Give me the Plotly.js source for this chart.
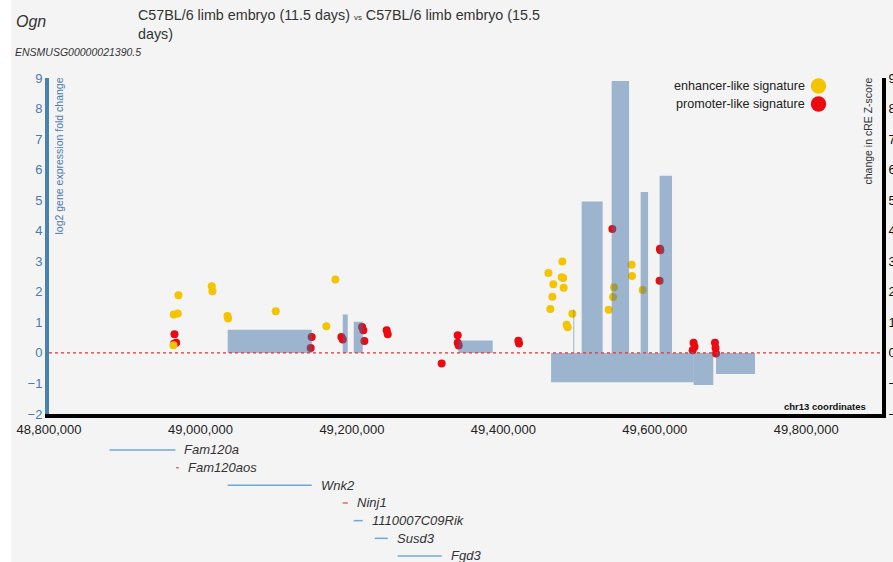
<!DOCTYPE html>
<html>
<head>
<meta charset="utf-8">
<script src="https://cdn.plot.ly/plotly-3.0.1.min.js"></script>
<style>
html,body{margin:0;padding:0;background:#ffffff;}
#plot{margin-left:11px;width:882px;height:562px;}
</style>
</head>
<body>
<div id="plot"></div>
<script>
// ---- data ----
// gene expression fold change rectangles (left axis)
const barStart = [49036000, 49187900, 49202400, 49340600, 49492300, 49463000, 49651300, 49680800, 49503400, 49543000, 49581300, 49606300];
const barEnd   = [49147000, 49194500, 49214300, 49385900, 49493600, 49651300, 49677200, 49732300, 49531100, 49566000, 49591100, 49622700];
const barValue = [0.76, 1.26, 1.02, 0.41, 1.42, -0.96, -1.05, -0.69, 4.96, 8.90, 5.27, 5.80];

// cRE z-score change (right axis)
const enhancerX = [48970950, 48964750, 48970000, 48964350, 49014900, 49015800, 49035650, 49036500, 49099400, 49178200, 49166300,
                   49477900, 49459400, 49477000, 49479000, 49466000, 49479600, 49464700, 49462000, 49491100, 49483500, 49485000,
                   49569400, 49569900, 49539000, 49546100, 49544800, 49583900];
const enhancerY = [1.89, 1.26, 1.29, 0.25, 2.18, 2.02, 1.21, 1.13, 1.36, 2.40, 0.87,
                   2.99, 2.62, 2.48, 2.45, 2.25, 2.13, 1.84, 1.44, 1.28, 0.92, 0.84,
                   2.89, 2.52, 1.41, 2.15, 1.83, 2.06];
const promoterX = [48965700, 48967900, 48965000, 49146900, 49145600, 49186100, 49187900, 49213400, 49215100, 49216500, 49245900, 49247300,
                   49318550, 49339700, 49339700, 49341000, 49419800, 49420700, 49543900, 49606800, 49607300, 49606300,
                   49651200, 49652500, 49650000, 49679400, 49680200, 49680800];
const promoterY = [0.61, 0.33, 0.30, 0.52, 0.16, 0.52, 0.44, 0.85, 0.74, 0.39, 0.74, 0.61,
                   -0.35, 0.58, 0.33, 0.24, 0.40, 0.31, 4.06, 3.41, 3.36, 2.36,
                   0.33, 0.20, 0.09, 0.33, 0.16, -0.02];

// gene track
const geneNames  = ['Fam120a', 'Fam120aos', 'Wnk2', 'Ninj1', '1110007C09Rik', 'Susd3', 'Fgd3'];
const geneStart  = [48879900, 48967900, 49036000, 49187900, 49202400, 49230100, 49260500];
const geneEnd    = [48967000, 48971400, 49147000, 49194500, 49214300, 49247300, 49318600];
const geneStrand = ['+', '-', '+', '-', '+', '+', '+'];

const xTicks = [48800000, 49000000, 49200000, 49400000, 49600000, 49800000];
const yTicks = [-2, -1, 0, 1, 2, 3, 4, 5, 6, 7, 8, 9];

// ---- build ----
const barCenter = barStart.map((s, i) => (s + barEnd[i]) / 2);
const barWidth  = barStart.map((s, i) => Math.max(barEnd[i] - s, 1300));

const colPlus = '#6fa8dc', colMinus = '#e06666';
function geneLine(strand) {
  const xs = [], ys = [];
  geneNames.forEach((g, i) => {
    if (geneStrand[i] === strand) { xs.push(geneStart[i], geneEnd[i], null); ys.push(i, i, null); }
  });
  return {x: xs, y: ys};
}
const gp = geneLine('+'), gm = geneLine('-');

const traces = [
  {type: 'scatter', mode: 'markers', x: promoterX, y: promoterY, xaxis: 'x', yaxis: 'y',
   marker: {size: 8, color: '#ea0a0f'}, hoverinfo: 'skip', cliponaxis: false},
  {type: 'scatter', mode: 'markers', x: enhancerX, y: enhancerY, xaxis: 'x', yaxis: 'y',
   marker: {size: 8, color: '#f5c400'}, hoverinfo: 'skip', cliponaxis: false},
  {type: 'bar', x: barCenter, y: barValue, width: barWidth, xaxis: 'x', yaxis: 'y2',
   marker: {color: 'rgb(60,110,165)', opacity: 0.48, line: {width: 0}}, hoverinfo: 'skip'},
  {type: 'scatter', mode: 'lines', x: gp.x, y: gp.y, xaxis: 'x', yaxis: 'y3',
   line: {color: colPlus, width: 1.5}, connectgaps: false, hoverinfo: 'skip'},
  {type: 'scatter', mode: 'lines', x: gm.x, y: gm.y, xaxis: 'x', yaxis: 'y3',
   line: {color: colMinus, width: 1.5}, connectgaps: false, hoverinfo: 'skip'}
];

const W = 833, H = 484, L = 49, T = 78;
const px = p => (p - L) / W;
const py = p => (T + H - p) / H;

const annotations = [
  {text: 'Ogn', xref: 'paper', yref: 'paper', x: px(14), y: py(22), xanchor: 'left', yanchor: 'middle', showarrow: false,
   font: {size: 16, color: '#333', style: 'italic'}},
  {text: 'C57BL/6 limb embryo (11.5 days) <span style="font-size:8px">vs</span> C57BL/6 limb embryo (15.5<br>days)',
   xref: 'paper', yref: 'paper', x: px(136), y: py(5), xanchor: 'left', yanchor: 'top', align: 'left', showarrow: false,
   font: {size: 14.3, color: '#333'}},
  {text: 'ENSMUSG00000021390.5', xref: 'paper', yref: 'paper', x: px(13), y: py(52), xanchor: 'left', yanchor: 'middle', showarrow: false,
   font: {size: 10.5, color: '#333', style: 'italic'}},
  {text: 'enhancer-like signature', xref: 'paper', yref: 'paper', x: px(807), y: py(86), xanchor: 'right', yanchor: 'middle', showarrow: false,
   font: {size: 12.6, color: '#222'}},
  {text: 'promoter-like signature', xref: 'paper', yref: 'paper', x: px(807), y: py(104), xanchor: 'right', yanchor: 'middle', showarrow: false,
   font: {size: 12.6, color: '#222'}},
  {text: 'log2 gene expression fold change', xref: 'paper', yref: 'paper', x: px(59), y: py(76), xanchor: 'center', yanchor: 'top',
   textangle: -90, showarrow: false, font: {size: 10.5, color: '#4a7ab0'}},
  {text: 'change in cRE Z-score', xref: 'paper', yref: 'paper', x: px(868), y: py(76), xanchor: 'center', yanchor: 'top',
   textangle: -90, showarrow: false, font: {size: 10.5, color: '#333'}},
  {text: '<b>chr13 coordinates</b>', xref: 'paper', yref: 'paper', x: px(868), y: py(406), xanchor: 'right', yanchor: 'middle',
   showarrow: false, font: {size: 9.5, color: '#111'}}
];
geneNames.forEach((g, i) => {
  annotations.push({text: g, xref: 'x', yref: 'y3', x: geneEnd[i], y: i, xanchor: 'left', yanchor: 'middle', xshift: 7,
    showarrow: false, font: {size: 13, color: '#333', style: 'italic'}});
});

const shapes = [
  {type: 'line', xref: 'paper', x0: 0, x1: 1, yref: 'y', y0: 0, y1: 0, line: {color: '#e03535', width: 1.2, dash: '3px,3px'}},
  {type: 'circle', xref: 'paper', yref: 'paper', xsizemode: 'pixel', ysizemode: 'pixel', xanchor: px(818.5), yanchor: py(86),
   x0: -7.7, x1: 7.7, y0: -7.7, y1: 7.7, fillcolor: '#f5c400', line: {width: 0}},
  {type: 'circle', xref: 'paper', yref: 'paper', xsizemode: 'pixel', ysizemode: 'pixel', xanchor: px(818.5), yanchor: py(104),
   x0: -7.7, x1: 7.7, y0: -7.7, y1: 7.7, fillcolor: '#ea0a0f', line: {width: 0}}
];

const layout = {
  width: 882, height: 562,
  paper_bgcolor: '#f4f4f4', plot_bgcolor: 'rgba(0,0,0,0)',
  margin: {l: 38, r: 11, t: 78, b: 0, pad: 0},
  showlegend: false, barmode: 'overlay',
  font: {family: 'Liberation Sans, Arial, sans-serif', color: '#222'},
  xaxis: {range: [48800000, 49900000], anchor: 'y', tickvals: xTicks, tickformat: ',d', showgrid: false, zeroline: false,
          showline: true, linecolor: '#000', linewidth: 4, ticks: '', tickfont: {size: 13, color: '#222'}, ticklabelstandoff: 0},
  yaxis: {domain: [148 / 484, 1], range: [-2, 9], side: 'right', anchor: 'x', tickvals: yTicks, showgrid: false, zeroline: false,
          showline: true, linecolor: '#000', linewidth: 4, ticks: '', tickfont: {size: 13, color: '#111'}},
  yaxis2: {overlaying: 'y', side: 'left', anchor: 'x', range: [-2, 9], tickvals: yTicks, showgrid: false, zeroline: false,
           showline: true, linecolor: '#4682b4', linewidth: 4, ticks: '', tickfont: {size: 13, color: '#4a7ab0'}},
  yaxis3: {domain: [0, 0.28], range: [6.34, -1.33], visible: false, anchor: 'x', fixedrange: true},
  annotations: annotations,
  shapes: shapes
};

Plotly.newPlot('plot', traces, layout, {displayModeBar: false, staticPlot: true});
</script>
</body>
</html>
